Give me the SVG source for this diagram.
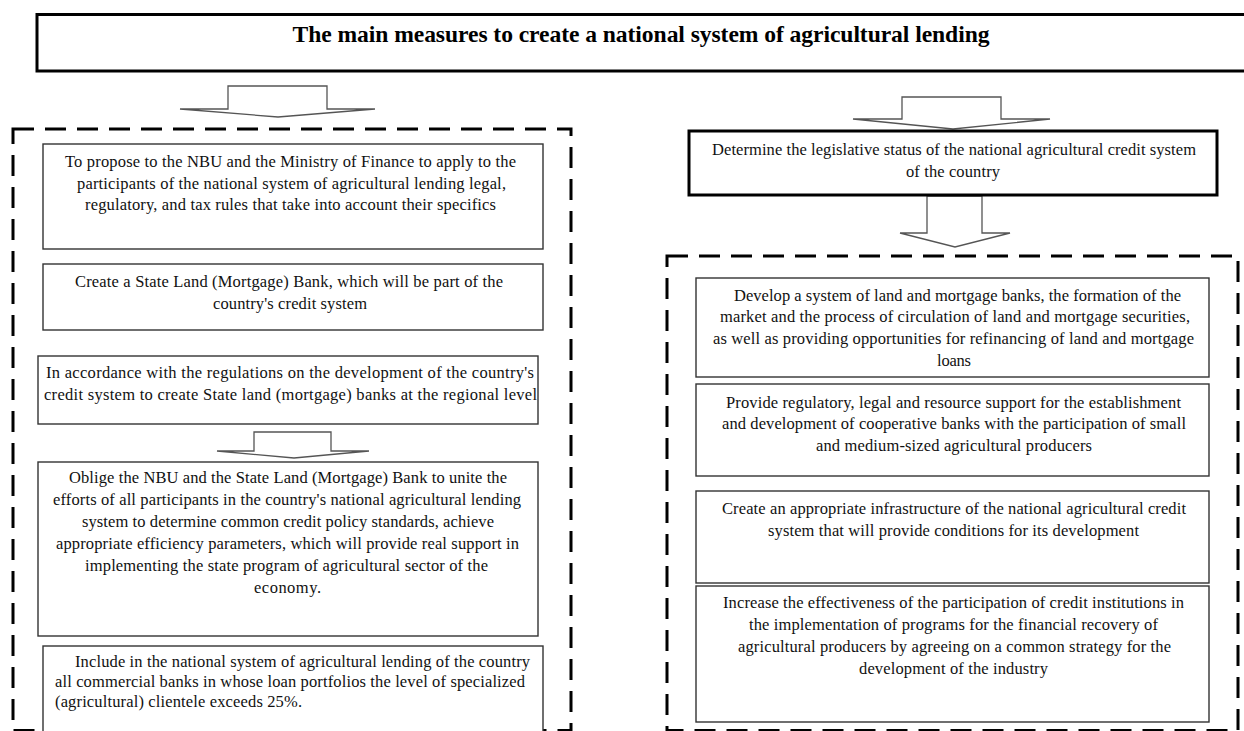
<svg xmlns="http://www.w3.org/2000/svg" width="1244" height="731" viewBox="0 0 1244 731">
<style>
.bg{fill:#ffffff}
.thick{fill:#ffffff;stroke:#000000;stroke-width:3}
.box{fill:#ffffff;stroke:#333333;stroke-width:1.4}
.dash{fill:none;stroke:#000000;stroke-width:3;stroke-dasharray:21 11}
.arr{fill:#ffffff;stroke:#555555;stroke-width:1.3;stroke-linejoin:miter}
.title{font-family:"Liberation Serif","Times New Roman",serif;font-weight:bold;font-size:23.6px;fill:#000;text-anchor:middle}
.t{font-family:"Liberation Serif","Times New Roman",serif;font-size:16.5px;fill:#111;text-anchor:middle}
.ts{font-family:"Liberation Serif","Times New Roman",serif;font-size:16.5px;fill:#111;text-anchor:start}
</style>
<rect class="bg" x="0" y="0" width="1244" height="731"/>

<g id="title">
<rect class="thick" x="37" y="14.5" width="1215" height="56.5"/>
<text class="title" x="641" y="42" textLength="697">The main measures to create a national system of agricultural lending</text>
</g>

<g id="left-group">
<rect class="dash" x="13" y="129" width="558" height="601.5"/>
</g>

<g id="right-group">
<rect class="dash" x="667" y="256" width="571" height="474.5"/>
</g>

<g id="connectors">
<polygon class="arr" points="228,86 327,86 327,109 375,109 278,117 180,109 228,109"/>
<polygon class="arr" points="254,432 331,432 331,451 369,451 294,458 217,451 254,451"/>
<polygon class="arr" points="902,97 1001,97 1001,119 1050,119 953,129 853,119 902,119"/>
<polygon class="arr" points="927,196 982,196 982,233 1010,233 955,247 900,233 927,233"/>
</g>

<g id="node-l1">
<rect class="box" x="43" y="144" width="500" height="105"/>
<text class="t" x="290.5" y="167" textLength="451">To propose to the NBU and the Ministry of Finance to apply to the</text>
<text class="t" x="291.5" y="188.5" textLength="429">participants of the national system of agricultural lending legal,</text>
<text class="t" x="290.5" y="210" textLength="411">regulatory, and tax rules that take into account their specifics</text>
</g>

<g id="node-l2">
<rect class="box" x="43" y="264" width="500" height="66"/>
<text class="t" x="289" y="287" textLength="428">Create a State Land (Mortgage) Bank, which will be part of the</text>
<text class="t" x="290" y="308.5" textLength="154">country's credit system</text>
</g>

<g id="node-l3">
<rect class="box" x="38" y="356" width="500" height="68"/>
<text class="t" x="290" y="378" textLength="488">In accordance with the regulations on the development of the country's</text>
<text class="t" x="290.5" y="399.5" textLength="493">credit system to create State land (mortgage) banks at the regional level</text>
</g>

<g id="node-l4">
<rect class="box" x="38" y="462" width="500" height="174"/>
<text class="t" x="288" y="483" textLength="438">Oblige the NBU and the State Land (Mortgage) Bank to unite the</text>
<text class="t" x="287" y="505" textLength="468">efforts of all participants in the country's national agricultural lending</text>
<text class="t" x="288" y="527" textLength="412">system to determine common credit policy standards, achieve</text>
<text class="t" x="287.5" y="549" textLength="463">appropriate efficiency parameters, which will provide real support in</text>
<text class="t" x="286.5" y="571" textLength="403">implementing the state program of agricultural sector of the</text>
<text class="t" x="287.5" y="593" textLength="67">economy.</text>
</g>

<g id="node-l5">
<rect class="box" x="43" y="646" width="500" height="100"/>
<text class="ts" x="75" y="667" textLength="455">Include in the national system of agricultural lending of the country</text>
<text class="ts" x="55" y="687" textLength="470">all commercial banks in whose loan portfolios the level of specialized</text>
<text class="ts" x="55" y="706.5" textLength="247">(agricultural) clientele exceeds 25%.</text>
</g>

<g id="node-r0">
<rect class="thick" x="689" y="131" width="528" height="64"/>
<text class="t" x="954" y="155" textLength="484">Determine the legislative status of the national agricultural credit system</text>
<text class="t" x="953" y="177" textLength="94">of the country</text>
</g>

<g id="node-r1">
<rect class="box" x="696" y="278" width="513" height="99"/>
<text class="t" x="957.5" y="301" textLength="447">Develop a system of land and mortgage banks, the formation of the</text>
<text class="t" x="955" y="322" textLength="470">market and the process of circulation of land and mortgage securities,</text>
<text class="t" x="953.5" y="343.5" textLength="481">as well as providing opportunities for refinancing of land and mortgage</text>
<text class="t" x="954" y="365.5" textLength="34">loans</text>
</g>

<g id="node-r2">
<rect class="box" x="696" y="384" width="513" height="92"/>
<text class="t" x="953.5" y="407.5" textLength="455">Provide regulatory, legal and resource support for the establishment</text>
<text class="t" x="954" y="429" textLength="464">and development of cooperative banks with the participation of small</text>
<text class="t" x="954" y="451" textLength="276">and medium-sized agricultural producers</text>
</g>

<g id="node-r3">
<rect class="box" x="696" y="491" width="513" height="92"/>
<text class="t" x="954" y="513.5" textLength="464">Create an appropriate infrastructure of the national agricultural credit</text>
<text class="t" x="953.5" y="535.5" textLength="371">system that will provide conditions for its development</text>
</g>

<g id="node-r4">
<rect class="box" x="696" y="586" width="513" height="136"/>
<text class="t" x="953.5" y="607.5" textLength="461">Increase the effectiveness of the participation of credit institutions in</text>
<text class="t" x="953.5" y="630" textLength="409">the implementation of programs for the financial recovery of</text>
<text class="t" x="954.5" y="652" textLength="433">agricultural producers by agreeing on a common strategy for the</text>
<text class="t" x="953.5" y="674" textLength="189">development of the industry</text>
</g>
</svg>
